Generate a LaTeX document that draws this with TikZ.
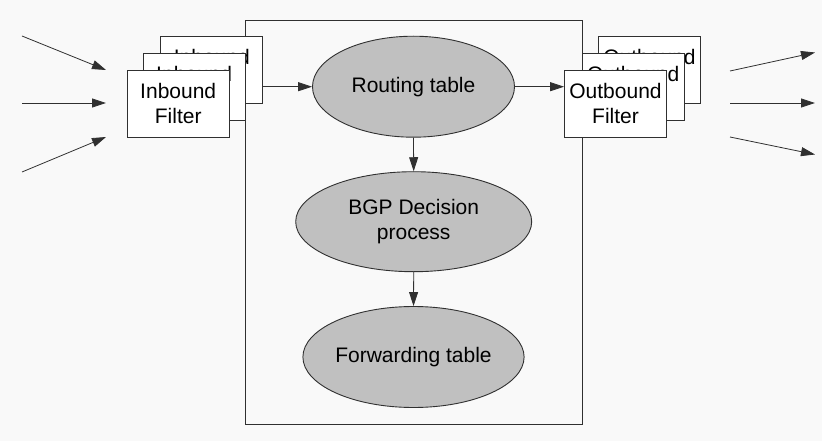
\documentclass[tikz,border=0pt]{standalone}
\usepackage{fontspec}
\setmainfont{Liberation Sans}
\usetikzlibrary{arrows.meta,shapes.geometric}
\definecolor{bgcol}{HTML}{F9F9F9}
\definecolor{ellfill}{HTML}{C0C0C0}
\definecolor{linecol}{HTML}{303030}
\begin{document}
\begin{tikzpicture}[x=1pt,y=-1pt,
  every node/.style={font=\fontsize{21}{24.5}\selectfont},
  ell/.style={ellipse,draw=linecol,fill=ellfill,line width=0.9pt,inner sep=0pt,align=center},
  filt/.style={rectangle,draw=linecol,fill=white,line width=0.9pt,minimum width=102pt,minimum height=67pt,inner sep=0pt,align=center},
  frame/.style={rectangle,draw=linecol,line width=0.9pt,minimum width=337pt,minimum height=404pt,inner sep=0pt},
  arr/.style={draw=linecol,line width=0.8pt,-{Triangle[length=14pt,width=9pt]}}]
\fill[bgcol] (0,0) rectangle (822,441);
\useasboundingbox (0,0) rectangle (822,441);
% big frame
\node[frame] (box) at (413.5,222) {};
% inbound filters
\node[filt] (ib3) at (211.8,69.7) {Inbound\\Filter};
\node[filt] (ib2) at (194.2,86.7) {Inbound\\Filter};
\node[filt] (ib1) at (178.2,103.7) {Inbound\\Filter};
% outbound filters
\node[filt] (ob3) at (649.5,69.7) {Outbound\\Filter};
\node[filt] (ob2) at (633.2,86.7) {Outbound\\Filter};
\node[filt] (ob1) at (615.5,103.7) {Outbound\\Filter};
% ellipses
\node[ell,minimum width=202pt,minimum height=101pt] (rt) at (413.5,86.7) {Routing table};
\node[ell,minimum width=236pt,minimum height=100pt] (dp) at (413.7,221.7) {BGP Decision\\process};
\node[ell,minimum width=202pt,minimum height=101pt] (ft) at (413.5,357) {Forwarding table};
% free ends
\coordinate (i1s) at (22,36);
\coordinate (i1e) at (106,70);
\coordinate (i2s) at (22,103);
\coordinate (i2e) at (106,103);
\coordinate (i3s) at (22,172);
\coordinate (i3e) at (106,137);
\coordinate (o1s) at (730,71);
\coordinate (o1e) at (815,52.5);
\coordinate (o2s) at (730,103);
\coordinate (o2e) at (815,103);
\coordinate (o3s) at (730,137);
\coordinate (o3e) at (815,154.5);
% connectors
\draw[arr] (i1s) -- (i1e);
\draw[arr] (i2s) -- (i2e);
\draw[arr] (i3s) -- (i3e);
\draw[arr] (o1s) -- (o1e);
\draw[arr] (o2s) -- (o2e);
\draw[arr] (o3s) -- (o3e);
\draw[arr] (ib3.east |- rt.west) -- (rt.west);
\draw[arr] (rt.east) -- (ob1.west |- rt.east);
\draw[arr] (rt.south) -- (dp.north);
\draw[arr] (dp.south) -- (ft.north);
\end{tikzpicture}
\end{document}
